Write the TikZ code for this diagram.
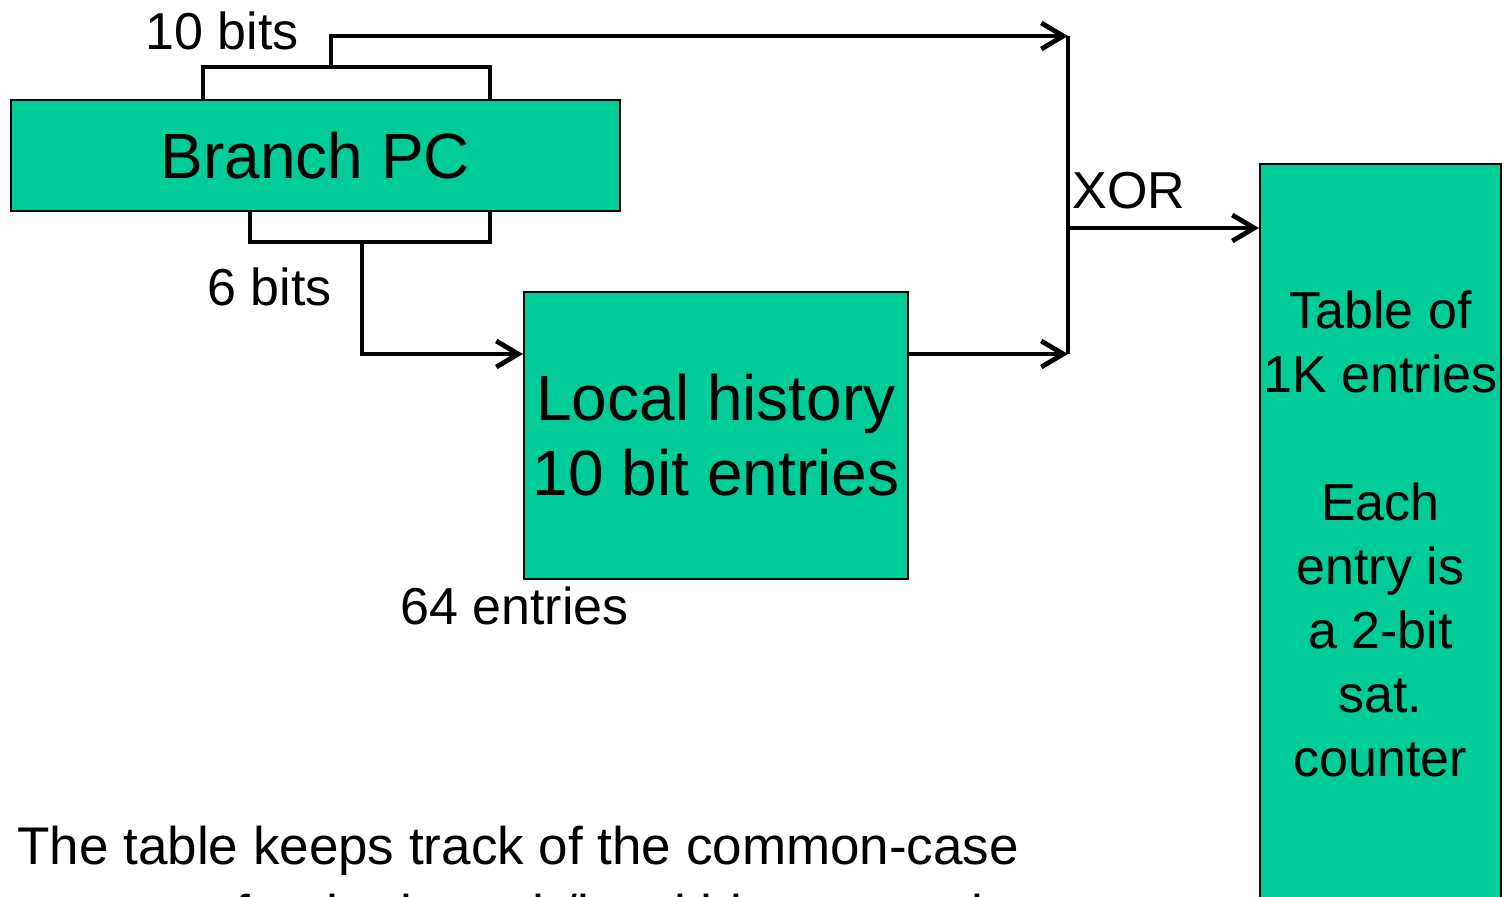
\documentclass[tikz,border=0pt]{standalone}
\usepackage{fontspec}
\setmainfont{Liberation Sans}
\usetikzlibrary{arrows.meta}
\definecolor{boxgreen}{HTML}{00CC99}
\begin{document}
\begin{tikzpicture}[x=0.5pt,y=-0.5pt,
  box/.style={draw=black, line width=1pt, fill=boxgreen, inner sep=0pt,
              anchor=north west, align=center},
  wire/.style={line width=2.4pt},
  arrow/.style={wire, -{Straight Barb[length=11pt,width=13pt]}},
  lbl/.style={anchor=base west, inner sep=0pt, font=\fontsize{26}{32}\selectfont}]
\useasboundingbox (0,0) rectangle (1504,896);
\clip (0,0) rectangle (1504,896);

% blocks
\node[box, minimum width=304.5pt, minimum height=55.5pt,
      font=\fontsize{32}{37.5}\selectfont] (pc) at (10,99) {Branch PC};
\node[box, minimum width=192pt, minimum height=143.5pt,
      font=\fontsize{32}{37.5}\selectfont] (hist) at (523,291)
      {Local history\\10 bit entries};
\node[box, minimum width=120.5pt, minimum height=370pt,
      font=\fontsize{26}{32}\selectfont] (tbl) at (1259,163)
      {Table of\\1K entries\\[32pt]Each\\entry is\\a 2-bit\\sat.\\counter};

% bit-field taps and junction points
\coordinate (ta) at (203,99);
\coordinate (tb) at (490,99);
\coordinate (tj) at (331,67);
\coordinate (ba) at (250,210);
\coordinate (bb) at (490,210);
\coordinate (bj) at (362,242);
\coordinate (xtop) at (1068,36);
\coordinate (xbot) at (1068,354);
\coordinate (xmid) at (1068,228);

% upper 10-bit field to the XOR
\draw[wire] (ta) |- (tj) -| (tb);
\draw[arrow] (tj) |- (xtop);

% lower 6-bit field indexes the local history table
\draw[wire] (ba) |- (bj) -| (bb);
\draw[arrow] (bj) |- (hist.west |- xbot);

% history output to the XOR
\draw[arrow] (hist.east |- xbot) -- (xbot);
\draw[wire] (xtop) -- (xbot);

% XOR result indexes the counter table
\draw[arrow] (xmid) -- (xmid -| tbl.west);

% labels
\node[lbl] (l10) at (145,49) {10 bits};
\node[lbl] (l6) at (207,305) {6 bits};
\node[lbl] (l64) at (400,624) {64 entries};
\node[lbl] (lxor) at (1072,208) {XOR};
\node[anchor=north west, inner sep=0pt, align=left,
      font=\fontsize{26.5}{34}\selectfont] (note) at (17,826)
      {The table keeps track of the common-case\\outcome for the branch/local history combo};
\end{tikzpicture}
\end{document}
